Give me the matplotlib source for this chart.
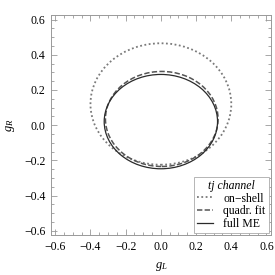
import matplotlib
matplotlib.use("Agg")
from matplotlib import pyplot as plt
from matplotlib.patches import Ellipse
from matplotlib.lines import Line2D
from matplotlib.ticker import MultipleLocator

plt.rcParams['font.family'] = ['Liberation Serif', 'DejaVu Serif']
plt.rcParams['mathtext.fontset'] = 'custom'
plt.rcParams['mathtext.rm'] = 'Liberation Serif'
plt.rcParams['mathtext.it'] = 'Liberation Serif:italic'

# contours: centre (gL, gR) and half widths
names = ['on\u2212shell', 'quadr. fit', 'full ME']
centre_gL = [0.0, 0.005, 0.0]
centre_gR = [0.12, 0.035, 0.02]
half_gL = [0.40, 0.32, 0.322]
half_gR = [0.345, 0.27, 0.268]

styles = [(0, (1, 1.4)), (0, (3.5, 1.5)), '-']
colors = ['#7a7a7a', '#555555', '#2a2a2a']
widths = [1.3, 1.1, 0.9]

fig = plt.figure(figsize=(2.75, 2.75), dpi=100)
ax = fig.add_axes([0.185, 0.145, 0.80, 0.80])

handles = []
for cx, cy, rx, ry, st, c, w, name in zip(centre_gL, centre_gR, half_gL, half_gR,
                                          styles, colors, widths, names):
    ax.add_patch(Ellipse((cx, cy), 2 * rx, 2 * ry, fill=False,
                         linestyle=st, edgecolor=c, linewidth=w))
    handles.append(Line2D([], [], linestyle=st, color=c, linewidth=w, label=name))

ax.set_xlim(-0.625, 0.625)
ax.set_ylim(-0.625, 0.625)
ax.xaxis.set_major_locator(MultipleLocator(0.2))
ax.yaxis.set_major_locator(MultipleLocator(0.2))
ax.xaxis.set_minor_locator(MultipleLocator(0.05))
ax.yaxis.set_minor_locator(MultipleLocator(0.05))
ax.xaxis.set_major_formatter(lambda v, p: f'{v:.1f}'.replace('-', '\u2212'))
ax.yaxis.set_major_formatter(lambda v, p: f'{v:.1f}'.replace('-', '\u2212'))
ax.tick_params(which='both', direction='in', top=True, right=True,
               color='#999999', labelsize=8.5, width=0.6)
ax.tick_params(which='major', length=4, pad=4)
ax.tick_params(which='minor', length=2)
for s in ax.spines.values():
    s.set_color('#999999')
    s.set_linewidth(0.7)

ax.set_xlabel('$g_L$', fontsize=9, labelpad=5)
ax.set_ylabel('$g_R$', fontsize=9, labelpad=5)

leg = ax.legend(handles=handles, title='tj channel', loc='lower right',
                fontsize=8.5, title_fontproperties={'style': 'italic', 'size': 8.5},
                handlelength=1.3, handletextpad=0.9, borderaxespad=0.2,
                labelspacing=0.05, borderpad=0.25, fancybox=False, framealpha=1)
leg.get_frame().set_edgecolor('#aaaaaa')
leg.get_frame().set_linewidth(0.6)

fig.savefig('out.png', dpi=100)
